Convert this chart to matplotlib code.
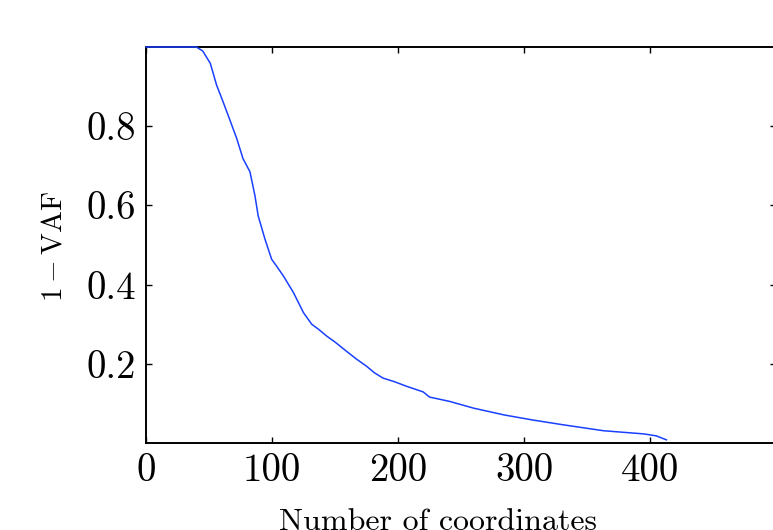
import matplotlib
matplotlib.use("Agg")
import matplotlib.pyplot as plt

plt.rcParams['font.family'] = 'cmr10'
plt.rcParams['mathtext.fontset'] = 'cm'
plt.rcParams['axes.unicode_minus'] = False
plt.rcParams['axes.formatter.use_mathtext'] = True

# values
n_coords = [0, 40, 45, 51, 56, 61, 67, 72, 77, 82.5, 86.5, 89, 94.4, 99.7,
            104, 109, 117, 125, 131.5, 137, 143.4, 150, 159, 167, 175, 181,
            188, 197, 207, 220, 225, 241, 260, 284, 307, 331, 363, 395, 405,
            413]
one_minus_vaf = [1.0, 1.0, 0.99, 0.959, 0.904, 0.863, 0.812, 0.769, 0.718,
                 0.685, 0.624, 0.574, 0.515, 0.464, 0.445, 0.422, 0.38, 0.329,
                 0.30, 0.287, 0.27, 0.255, 0.232, 0.212, 0.194, 0.178, 0.164,
                 0.155, 0.143, 0.129, 0.116, 0.105, 0.088, 0.071, 0.058, 0.046,
                 0.031, 0.023, 0.018, 0.008]

x_ticks = [0, 100, 200, 300, 400]
y_ticks = [0.2, 0.4, 0.6, 0.8]

fig = plt.figure(figsize=(7.73, 5.30), dpi=100)
ax = fig.add_axes([146 / 773, 87 / 530, 630 / 773, 396 / 530])

ax.plot(n_coords, one_minus_vaf, color=(0.1, 0.25, 1.0), lw=1.1, zorder=3,
        clip_on=False)

ax.set_xlim(0, 500)
ax.set_ylim(0, 1.0)
ax.set_xticks(x_ticks)
ax.set_yticks(y_ticks)
ax.set_xticklabels([str(v) for v in x_ticks])
ax.set_yticklabels([f"{v:.1f}" for v in y_ticks])
ax.tick_params(direction='in', length=4.5, width=1.0, labelsize=28,
               top=True, right=True, pad=7)
for s in ax.spines.values():
    s.set_linewidth(1.4)

fig.text(438 / 773, 0.5 / 530, 'Number of coordinates', fontsize=23,
         ha='center', va='baseline')
fig.text(62 / 773, 1 - 246 / 530, r'$1-\mathrm{VAF}$', fontsize=21,
         rotation=90, rotation_mode='anchor', ha='center', va='baseline')

fig.savefig('out.png', dpi=100)
